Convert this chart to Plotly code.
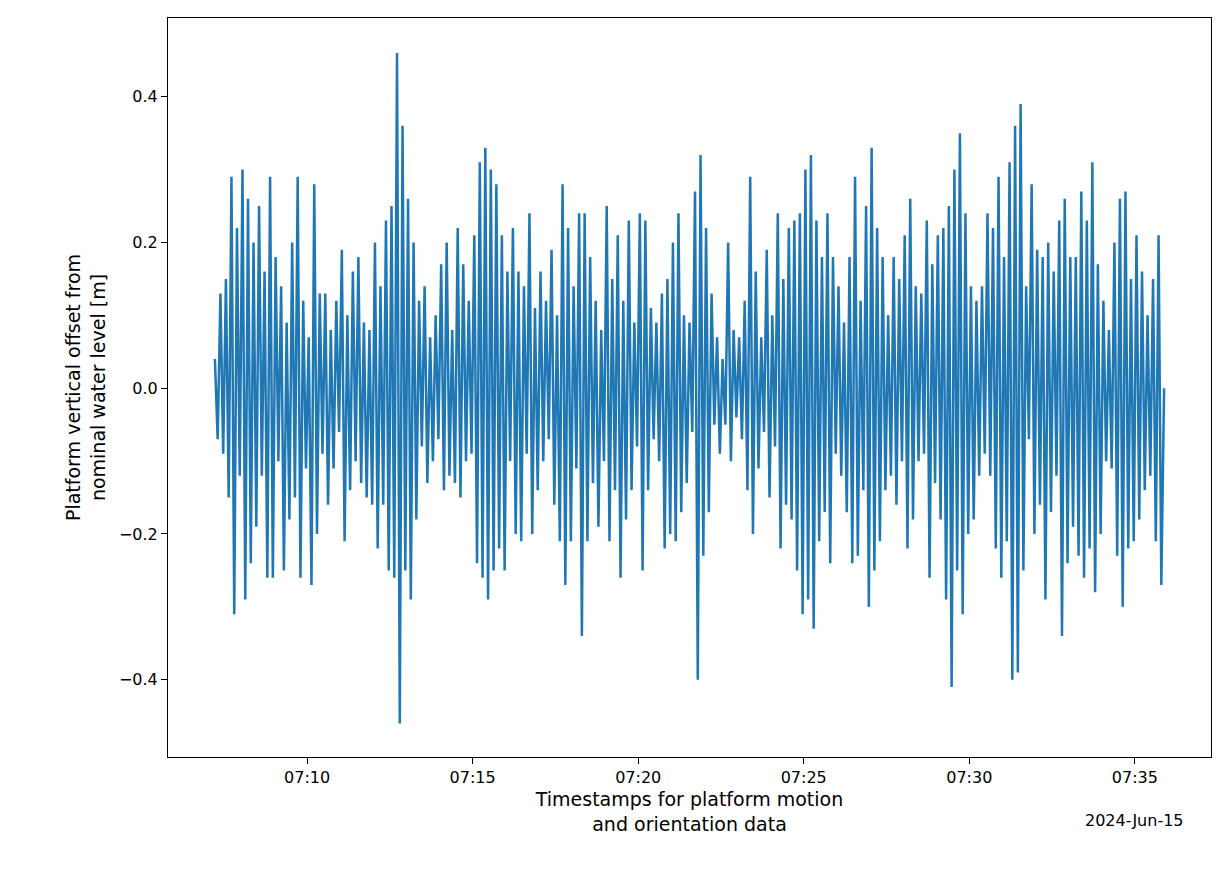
import pandas as pd
import plotly.graph_objects as go

# Platform heave, one reading per ~5 s
heave = [
    0.04, -0.07, 0.13, -0.09, 0.15, -0.15, 0.29, -0.31, 0.22, -0.12, 0.30, -0.29,
    0.26, -0.24, 0.20, -0.19, 0.25, -0.12, 0.16, -0.26, 0.29, -0.26, 0.18, -0.10,
    0.14, -0.25, 0.09, -0.18, 0.20, -0.15, 0.29, -0.26, 0.12, -0.11, 0.07, -0.27,
    0.28, -0.20, 0.13, -0.09, 0.13, -0.16, 0.08, -0.11, 0.12, -0.06, 0.19, -0.21,
    0.10, -0.14, 0.16, -0.10, 0.18, -0.13, 0.09, -0.15, 0.08, -0.16, 0.20, -0.22,
    0.14, -0.16, 0.23, -0.25, 0.25, -0.26, 0.46, -0.46, 0.36, -0.25, 0.26, -0.29,
    0.20, -0.18, 0.12, -0.08, 0.14, -0.13, 0.07, -0.10, 0.10, -0.07, 0.17, -0.14,
    0.20, -0.12, 0.08, -0.13, 0.22, -0.15, 0.17, -0.10, 0.12, -0.09, 0.21, -0.24,
    0.31, -0.26, 0.33, -0.29, 0.30, -0.25, 0.28, -0.22, 0.21, -0.25, 0.16, -0.10,
    0.22, -0.20, 0.16, -0.21, 0.14, -0.09, 0.24, -0.20, 0.11, -0.14, 0.16, -0.10,
    0.12, -0.07, 0.19, -0.16, 0.10, -0.21, 0.28, -0.27, 0.22, -0.21, 0.14, -0.11,
    0.24, -0.34, 0.24, -0.21, 0.18, -0.13, 0.12, -0.19, 0.08, -0.10, 0.25, -0.21,
    0.15, -0.14, 0.21, -0.26, 0.12, -0.18, 0.23, -0.14, 0.09, -0.08, 0.24, -0.25,
    0.23, -0.14, 0.11, -0.07, 0.09, -0.10, 0.13, -0.22, 0.15, -0.20, 0.20, -0.21,
    0.24, -0.17, 0.10, -0.13, 0.09, -0.06, 0.27, -0.40, 0.32, -0.23, 0.22, -0.17,
    0.13, -0.05, 0.07, -0.09, 0.04, -0.05, 0.20, -0.10, 0.08, -0.04, 0.07, -0.07,
    0.12, -0.14, 0.29, -0.20, 0.16, -0.11, 0.07, -0.06, 0.19, -0.15, 0.10, -0.08,
    0.24, -0.22, 0.15, -0.16, 0.22, -0.18, 0.23, -0.25, 0.24, -0.31, 0.30, -0.29,
    0.32, -0.33, 0.23, -0.21, 0.18, -0.17, 0.24, -0.24, 0.18, -0.09, 0.14, -0.12,
    0.09, -0.17, 0.18, -0.24, 0.29, -0.23, 0.12, -0.14, 0.25, -0.30, 0.33, -0.25,
    0.22, -0.21, 0.18, -0.14, 0.10, -0.12, 0.18, -0.16, 0.15, -0.10, 0.21, -0.22,
    0.26, -0.18, 0.14, -0.10, 0.13, -0.09, 0.23, -0.26, 0.17, -0.13, 0.21, -0.18,
    0.22, -0.29, 0.25, -0.41, 0.30, -0.25, 0.35, -0.31, 0.24, -0.20, 0.14, -0.18,
    0.12, -0.12, 0.14, -0.09, 0.24, -0.12, 0.22, -0.22, 0.29, -0.26, 0.18, -0.21,
    0.31, -0.40, 0.36, -0.39, 0.39, -0.25, 0.14, -0.07, 0.28, -0.20, 0.19, -0.16,
    0.18, -0.29, 0.20, -0.17, 0.16, -0.12, 0.23, -0.34, 0.26, -0.24, 0.18, -0.19,
    0.18, -0.23, 0.27, -0.26, 0.23, -0.22, 0.31, -0.28, 0.17, -0.20, 0.12, -0.10,
    0.08, -0.11, 0.20, -0.23, 0.26, -0.30, 0.27, -0.22, 0.15, -0.21, 0.21, -0.18,
    0.16, -0.14, 0.10, -0.12, 0.15, -0.21, 0.21, -0.27, 0.00,
]
times = pd.date_range("2024-06-15 07:07:13", periods=len(heave), freq="5s")

tick_vals = pd.date_range("2024-06-15 07:10", "2024-06-15 07:35", freq="5min")
y_ticks = [-0.4, -0.2, 0.0, 0.2, 0.4]

fig = go.Figure()
fig.add_trace(go.Scatter(x=times, y=heave, mode="lines",
                         line=dict(color="#1f77b4", width=2.5)))

axis_style = dict(showline=True, linecolor="black", linewidth=1, mirror=True,
                  ticks="outside", ticklen=6, tickcolor="black",
                  showgrid=False, zeroline=False)

fig.update_layout(
    width=1229, height=888,
    margin=dict(l=160, r=26, t=10, b=139),
    plot_bgcolor="white", paper_bgcolor="white",
    font=dict(family="DejaVu Sans", size=16, color="black"),
    showlegend=False,
    xaxis=dict(axis_style, tickvals=tick_vals, tickformat="%H:%M",
               range=["2024-06-15 07:05:48", "2024-06-15 07:37:18"],
               title=dict(text="Timestamps for platform motion<br>and orientation data",
                          standoff=6)),
    yaxis=dict(axis_style, tickvals=y_ticks, tickformat=".1f",
               range=[-0.506, 0.508],
               title=dict(text="Platform vertical offset from<br>nominal water level [m]",
                          standoff=8)),
)
fig.add_annotation(text="2024-Jun-15", x="2024-06-15 07:35", xref="x",
                   y=0, yref="paper", yshift=-52, showarrow=False,
                   xanchor="center", yanchor="top", font=dict(size=16))

fig.write_html("out.html")
